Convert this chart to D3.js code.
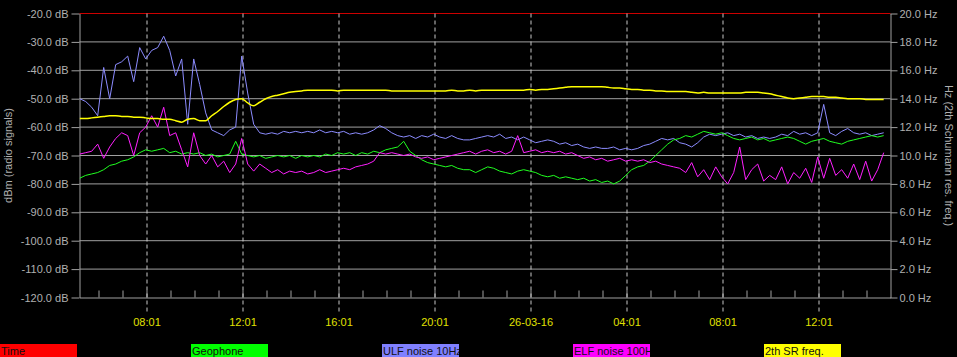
<!DOCTYPE html>
<html>
<head>
<meta charset="utf-8">
<script src="https://cdn.jsdelivr.net/npm/d3@7"></script>
<style>
  body { margin: 0; background: #000; }
  svg { display: block; }
  text { font-family: 'Liberation Sans', Arial, sans-serif; font-size: 11px; }
</style>
</head>
<body>
<script>
// readings every 15 minutes, starting 25-03-16 05:14
const startTime = new Date(2016, 2, 25, 5, 14)
const stepMinutes = 15

// ULF noise 10Hz (dBm)
const ulfNoise = [-50, -51, -53, -56, -39, -50, -38, -37, -35, -44,
  -32, -36, -33, -32, -28, -33, -42, -36, -59, -36,
  -45, -55, -61, -62, -63, -61, -60, -35, -48, -59,
  -62, -62.5, -62, -62.5, -61.5, -62, -61.5, -62, -61.5, -62,
  -61, -62, -61.5, -62, -61.5, -62.5, -62, -62.5, -62, -61,
  -59.5, -60.5, -62, -63, -63.5, -63, -64, -63, -63.5, -62.5,
  -63.5, -64, -63, -64, -64.5, -64.5, -64, -63.5, -63, -63.5,
  -62.5, -64, -63.5, -64.5, -63.5, -64.5, -65.5, -65, -64.5, -65,
  -66, -65.5, -66.5, -66, -67, -67.5, -67, -67.5, -67.5, -67,
  -68, -67.5, -68, -67.5, -66.5, -66, -65, -64, -64.5, -64,
  -65.5, -66, -67, -65.5, -63.5, -62.5, -63, -62.5, -62, -63,
  -62.5, -63.5, -63, -64, -63.5, -64, -63.5, -62.5, -63, -61.5,
  -62.5, -62, -63, -62, -52, -62, -63, -61.5, -60.5, -62,
  -62.5, -62, -63, -62.5, -62]

// Geophone (dBm)
const geophone = [-78, -77, -76.5, -76, -75, -73.5, -73, -72, -71.5, -70.5,
  -69, -68, -68.5, -68, -67.5, -69, -68.5, -69.5, -69, -69.5,
  -69, -70, -69.5, -70.5, -70, -69.5, -65, -69.5, -70, -70.5,
  -70, -71, -70.5, -70, -70.5, -70, -71, -70, -70.5, -70,
  -70.5, -69.5, -70, -69, -69.5, -69, -70, -69, -69.5, -68.5,
  -69, -68, -67.5, -67, -65, -68.5, -70, -71.5, -72.5, -73,
  -73.5, -74, -73.5, -74.5, -75, -75, -76, -75, -74, -74.5,
  -75.5, -76, -76.5, -75.5, -75, -75.5, -76, -77, -77.5, -77,
  -78, -77.5, -78, -78.5, -78, -79, -78.5, -79.5, -79, -80,
  -79, -77, -75, -74, -73.5, -72, -70, -68, -66, -64.5,
  -64, -63, -63.5, -62.5, -61.5, -62, -62.5, -62, -63, -64,
  -64.5, -64, -63.5, -64.5, -64, -65, -64.5, -64, -63.5, -64,
  -65, -66, -65, -64.5, -64, -65, -65.5, -66, -65, -64.5,
  -64, -63.5, -63, -63.5, -63]

// ELF noise 100Hz (dBm)
const elfNoise = [-69.5, -69, -68.5, -66, -71, -67, -64, -62, -63, -70,
  -62, -60, -56, -60, -53, -63, -62, -68, -74, -62,
  -70, -73, -70, -74, -72, -76, -73, -64, -73, -75.5,
  -73, -74.5, -76, -75, -76.5, -75.5, -76, -75.5, -76.5, -76,
  -75, -76, -75.5, -75, -74.5, -75, -74, -73.5, -73, -72,
  -69, -69.5, -69, -69.5, -70, -69.5, -70.5, -71, -70.5, -71.5,
  -71, -70.5, -70, -69.5, -69, -68.5, -69.5, -68.5, -68, -69,
  -68.5, -69.5, -68.5, -63, -69, -68.5, -68, -69, -68.5, -69,
  -68.5, -69.5, -69, -70, -71, -70.5, -71.5, -71, -72, -71.5,
  -71, -72, -71.5, -72, -71.5, -72.5, -72, -73, -73.5, -74,
  -74.5, -76, -72.5, -77.5, -75, -78.5, -74, -77.5, -80, -76,
  -67, -78.5, -75, -73, -79, -77, -78.5, -74, -80, -76,
  -78, -74.5, -79.5, -70.5, -78, -71, -77, -75, -78, -73,
  -78.5, -72, -79, -75, -69]

// 2th Schumann resonance frequency (Hz)
const srFreq = [12.6, 12.6, 12.65, 12.7, 12.75, 12.8, 12.8, 12.75, 12.75, 12.7,
  12.7, 12.65, 12.6, 12.6, 12.55, 12.55, 12.45, 12.35, 12.55, 12.6,
  12.45, 12.45, 12.8, 13.1, 13.45, 13.75, 13.95, 14.0, 13.7, 13.5,
  13.75, 14.0, 14.15, 14.25, 14.35, 14.45, 14.5, 14.55, 14.6, 14.6,
  14.6, 14.6, 14.6, 14.55, 14.6, 14.6, 14.6, 14.6, 14.6, 14.6,
  14.6, 14.6, 14.55, 14.55, 14.55, 14.55, 14.55, 14.55, 14.55, 14.55,
  14.55, 14.55, 14.6, 14.55, 14.55, 14.6, 14.55, 14.6, 14.6, 14.6,
  14.6, 14.6, 14.6, 14.6, 14.6, 14.65, 14.6, 14.65, 14.65, 14.7,
  14.75, 14.8, 14.85, 14.85, 14.85, 14.85, 14.85, 14.85, 14.8, 14.75,
  14.75, 14.7, 14.65, 14.65, 14.6, 14.6, 14.55, 14.55, 14.5, 14.5,
  14.5, 14.5, 14.45, 14.4, 14.45, 14.4, 14.4, 14.4, 14.4, 14.4,
  14.4, 14.45, 14.45, 14.45, 14.4, 14.35, 14.25, 14.15, 14.05, 14.0,
  14.05, 14.1, 14.15, 14.15, 14.15, 14.1, 14.1, 14.05, 14.0, 14.0,
  14.0, 13.95, 13.95, 13.95, 13.95]

// axis ticks and labels
const dbTicks = [-120, -110, -100, -90, -80, -70, -60, -50, -40, -30, -20]
const hzTicks = [0, 2, 4, 6, 8, 10, 12, 14, 16, 18, 20]
const timeTicks = ['2016-03-25 08:01', '2016-03-25 12:01', '2016-03-25 16:01', '2016-03-25 20:01',
  '2016-03-26 00:01', '2016-03-26 04:01', '2016-03-26 08:01', '2016-03-26 12:01']
const timeLabels = ['08:01', '12:01', '16:01', '20:01', '26-03-16', '04:01', '08:01', '12:01']

const legendNames = ['Time', 'Geophone', 'ULF noise 10Hz', 'ELF noise 100Hz', '2th SR freq.']
const legendColors = ['#ff0000', '#00ff00', '#8080ff', '#ff00ff', '#ffff00']

// set the dimensions of the diagram
const width = 957, height = 357
const plotLeft = 79.5, plotRight = 890.5, plotTop = 13.5, plotBottom = 297.5
const gridColor = '#a0a0a0', labelColor = '#b0b0b0'

const parseTime = d3.timeParse('%Y-%m-%d %H:%M')

const x = d3.scaleTime()
  .domain([new Date(2016, 2, 25, 5, 13, 30), new Date(2016, 2, 26, 15, 1)])
  .range([plotLeft, plotRight])
const yDb = d3.scaleLinear().domain([-120, -20]).range([plotBottom, plotTop])
const yHz = d3.scaleLinear().domain([0, 20]).range([plotBottom, plotTop])

const timeAt = function (i) {
  return d3.timeMinute.offset(startTime, i * stepMinutes)
}

const svg = d3.select('body').append('svg')
  .attr('width', width)
  .attr('height', height)
  .style('background', '#000')

// horizontal grid lines, the top one is red
svg.append('g')
  .selectAll('line')
  .data(dbTicks.slice(1))
  .enter().append('line')
  .attr('x1', plotLeft)
  .attr('x2', plotRight)
  .attr('y1', function (d) { return yDb(d) })
  .attr('y2', function (d) { return yDb(d) })
  .attr('stroke', function (d) { return d === -20 ? '#cc0000' : gridColor })
  .attr('stroke-width', 1)

// hourly minor ticks along the bottom
const hourTicks = d3.timeHour.range(new Date(2016, 2, 25, 6), new Date(2016, 2, 26, 16))
  .map(function (d) { return d3.timeMinute.offset(d, 1) })
  .filter(function (d) { return x(d) < plotRight })

svg.append('g')
  .attr('transform', 'translate(0,' + plotBottom + ')')
  .call(d3.axisBottom(x).tickValues(hourTicks).tickSize(-7).tickSizeOuter(0).tickFormat(''))
  .call(function (g) {
    g.selectAll('path, line').attr('stroke', gridColor)
  })

// time labels with dashed grid lines
svg.append('g')
  .attr('transform', 'translate(0,' + plotBottom + ')')
  .call(d3.axisBottom(x)
    .tickValues(timeTicks.map(parseTime))
    .tickSize(16)
    .tickPadding(5)
    .tickFormat(function (d, i) { return timeLabels[i] }))
  .call(function (g) {
    g.select('.domain').remove()
    g.selectAll('.tick line')
      .attr('y1', plotTop - plotBottom)
      .attr('stroke', '#c8c8c8')
      .attr('stroke-dasharray', '4,3')
    g.selectAll('.tick text')
      .attr('fill', '#e0e000')
      .style('font-size', '11px')
      .style('font-family', "'Liberation Sans', Arial, sans-serif")
  })

// left axis (dBm)
svg.append('g')
  .attr('transform', 'translate(' + plotLeft + ',0)')
  .call(d3.axisLeft(yDb).tickValues(dbTicks).tickSize(8).tickSizeOuter(0).tickPadding(3)
    .tickFormat(function (d) { return d.toFixed(1) + ' dB' }))
  .call(function (g) {
    g.selectAll('path, line').attr('stroke', gridColor)
    g.selectAll('.tick text')
      .attr('fill', labelColor)
      .style('font-size', '11px')
      .style('font-family', "'Liberation Sans', Arial, sans-serif")
  })

// right axis (Hz)
svg.append('g')
  .attr('transform', 'translate(' + plotRight + ',0)')
  .call(d3.axisRight(yHz).tickValues(hzTicks).tickSize(7).tickSizeOuter(0).tickPadding(2)
    .tickFormat(function (d) { return d.toFixed(1) + ' Hz' }))
  .call(function (g) {
    g.selectAll('path, line').attr('stroke', gridColor)
    g.selectAll('.tick text')
      .attr('fill', labelColor)
      .style('font-size', '11px')
      .style('font-family', "'Liberation Sans', Arial, sans-serif")
  })

// axis titles
svg.append('text')
  .attr('transform', 'translate(8,' + (plotTop + plotBottom) / 2 + ') rotate(-90)')
  .attr('text-anchor', 'middle')
  .attr('dominant-baseline', 'central')
  .attr('fill', labelColor)
  .text('dBm (radio signals)')

svg.append('text')
  .attr('transform', 'translate(949,' + (plotTop + plotBottom) / 2 + ') rotate(90)')
  .attr('text-anchor', 'middle')
  .attr('dominant-baseline', 'central')
  .attr('fill', labelColor)
  .text('Hz (2th Schumann res. freq.)')

// clip the series to the plot area
svg.append('clipPath').attr('id', 'plot-clip')
  .append('rect')
  .attr('x', plotLeft).attr('y', 0)
  .attr('width', plotRight - plotLeft).attr('height', plotBottom)

const plot = svg.append('g').attr('clip-path', 'url(#plot-clip)')

const dbLine = d3.line()
  .x(function (d, i) { return x(timeAt(i)) })
  .y(function (d) { return yDb(d) })

const hzLine = d3.line()
  .x(function (d, i) { return x(timeAt(i)) })
  .y(function (d) { return yHz(d) })
  .curve(d3.curveMonotoneX)

const series = [
  {values: ulfNoise, line: dbLine, color: '#8c8cff', w: 1},
  {values: geophone, line: dbLine, color: '#20ff20', w: 1},
  {values: elfNoise, line: dbLine, color: '#ff20ff', w: 1},
  {values: srFreq, line: hzLine, color: '#ffff00', w: 1.5}
]

plot.selectAll('.series')
  .data(series)
  .enter().append('path')
  .attr('class', 'series')
  .attr('fill', 'none')
  .attr('stroke', function (d) { return d.color })
  .attr('stroke-width', function (d) { return d.w })
  .attr('d', function (d) { return d.line(d.values) })

// legend boxes along the bottom edge
const legend = svg.selectAll('.legend')
  .data(legendNames)
  .enter().append('g')
  .attr('class', 'legend')
  .attr('transform', function (d, i) { return 'translate(' + i * 191 + ',344)' })

legend.append('clipPath')
  .attr('id', function (d, i) { return 'legend-clip-' + i })
  .append('rect')
  .attr('width', 77).attr('height', 13)

legend.append('rect')
  .attr('width', 77)
  .attr('height', 13)
  .attr('fill', function (d, i) { return legendColors[i] })

legend.append('text')
  .attr('clip-path', function (d, i) { return 'url(#legend-clip-' + i + ')' })
  .attr('x', 1)
  .attr('y', 11)
  .attr('fill', '#101010')
  .text(function (d) { return d })
</script>
</body>
</html>
